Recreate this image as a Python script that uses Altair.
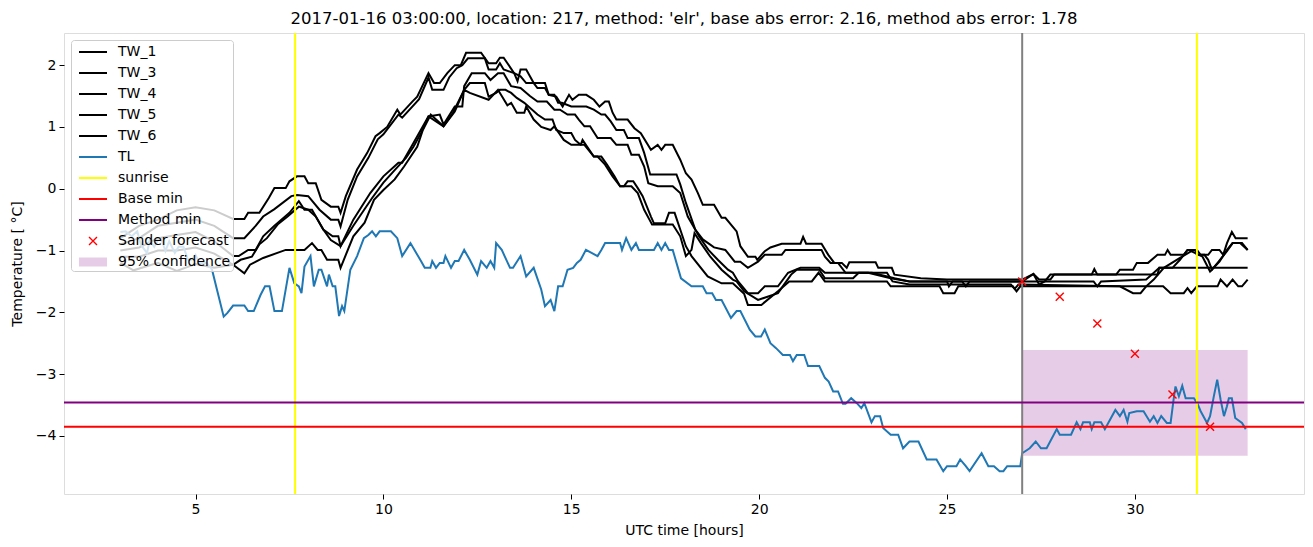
import altair as alt
import pandas as pd

TITLE = "2017-01-16 03:00:00, location: 217, method: 'elr', base abs error: 2.16, method abs error: 1.78"

# ---- data (hour, temperature) ----
tw_1 = [(3.0,-0.8),(3.5,-0.6),(4.0,-0.5),(4.5,-0.35),(5.0,-0.3),(5.5,-0.35),(6.0,-0.49),(6.3,-0.49),(6.4,-0.39),(6.7,-0.39),(6.95,-0.15),(7.1,0.01),(7.4,0.01),(7.5,0.12),(7.7,0.2),(7.9,0.2),(8.0,0.09),(8.2,0.09),(8.35,-0.18),(8.6,-0.29),(8.8,-0.29),(8.86,-0.39),(9.0,-0.12),(9.3,0.31),(9.57,0.58),(9.79,0.85),(9.9,0.9),(10.1,1.0),(10.37,1.28),(10.45,1.2),(10.77,1.41),(10.9,1.49),(11.2,1.87),(11.35,1.71),(11.5,1.71),(11.7,1.87),(11.9,2.0),(12.06,2.0),(12.2,2.2),(12.6,2.2),(12.8,2.03),(13.0,2.03),(13.1,2.12),(13.2,2.12),(13.48,1.87),(13.57,1.74),(13.65,1.93),(13.8,1.93),(13.9,1.82),(14.0,1.71),(14.3,1.71),(14.4,1.52),(14.6,1.49),(14.77,1.33),(14.94,1.52),(15.03,1.44),(15.2,1.52),(15.4,1.52),(15.6,1.44),(15.75,1.33),(15.9,1.41),(16.0,1.41),(16.1,1.23),(16.2,1.12),(16.5,1.12),(16.68,0.98),(16.85,0.9),(17.12,0.63),(17.3,0.71),(17.4,0.63),(17.5,0.71),(17.7,0.71),(17.9,0.47),(18.05,0.25),(18.2,0.15),(18.37,-0.07),(18.5,-0.26),(18.8,-0.26),(19.0,-0.47),(19.1,-0.47),(19.4,-0.69),(19.5,-0.93),(19.7,-1.1),(19.9,-1.1),(19.95,-1.15),(20.15,-1.01),(20.3,-0.95),(20.6,-0.89),(21.1,-0.89),(21.17,-0.78),(21.25,-0.89),(21.66,-0.89),(21.84,-1.07),(22.0,-1.2),(22.2,-1.2),(22.33,-1.28),(22.4,-1.19),(23.1,-1.19),(23.17,-1.28),(23.53,-1.28),(23.6,-1.39),(24.3,-1.45),(25.0,-1.47),(26.0,-1.47),(27.0,-1.47),(27.3,-1.38),(27.45,-1.47),(27.75,-1.47),(27.85,-1.39),(28.85,-1.39),(28.92,-1.3),(29.0,-1.39),(29.5,-1.39),(29.6,-1.31),(29.95,-1.31),(30.05,-1.2),(30.35,-1.2),(30.6,-1.07),(30.8,-1.07),(30.87,-0.99),(30.95,-1.07),(31.3,-1.07),(31.4,-0.99),(31.65,-0.99),(31.75,-1.07),(31.95,-1.07),(32.05,-0.99),(32.25,-0.99),(32.35,-1.07),(32.45,-0.88),(32.58,-0.7),(32.68,-0.8),(33.0,-0.8)]

tw_3 = [(3.0,-0.9),(3.5,-0.8),(4.0,-0.6),(4.5,-0.55),(5.0,-0.5),(5.5,-0.6),(6.0,-0.8),(6.3,-0.8),(6.6,-0.6),(6.8,-0.45),(7.1,-0.33),(7.55,-0.12),(7.7,-0.1),(8.0,-0.12),(8.3,-0.34),(8.6,-0.5),(8.8,-0.5),(8.86,-0.61),(9.05,-0.18),(9.3,0.2),(9.6,0.5),(9.85,0.8),(10.0,0.88),(10.4,1.2),(10.5,1.15),(10.8,1.35),(10.95,1.45),(11.2,1.8),(11.3,1.6),(11.6,1.6),(11.75,1.8),(11.95,1.95),(12.1,2.0),(12.25,2.11),(12.7,2.11),(12.8,1.93),(13.0,1.93),(13.1,2.03),(13.2,1.93),(13.48,1.87),(13.65,1.82),(13.8,1.71),(14.0,1.71),(14.1,1.63),(14.3,1.63),(14.4,1.52),(14.55,1.52),(14.65,1.39),(14.75,1.39),(15.0,1.33),(15.4,1.33),(15.6,1.28),(15.8,1.2),(15.9,1.2),(16.05,1.09),(16.2,0.95),(16.4,0.95),(16.5,0.82),(16.8,0.82),(16.94,0.58),(17.1,0.23),(17.8,0.23),(17.9,0.07),(18.05,-0.23),(18.3,-0.66),(18.5,-0.82),(18.8,-0.95),(19.1,-0.99),(19.35,-1.18),(19.5,-1.18),(19.7,-1.28),(19.97,-1.18),(20.15,-1.07),(20.6,-1.07),(20.7,-0.99),(21.66,-0.99),(21.75,-1.1),(21.9,-1.2),(22.1,-1.2),(22.3,-1.36),(23.0,-1.36),(23.6,-1.45),(24.0,-1.5),(25.0,-1.5),(25.05,-1.58),(25.15,-1.5),(27.0,-1.5),(27.3,-1.38),(27.45,-1.55),(27.6,-1.5),(27.75,-1.39),(30.6,-1.39),(30.65,-1.28),(31.0,-1.28),(31.2,-1.15),(31.4,-0.99),(31.6,-0.99),(31.65,-1.07),(31.85,-1.07),(31.95,-1.15),(32.05,-1.31),(32.2,-1.2),(32.45,-1.01),(32.6,-0.88),(32.8,-0.88),(33.0,-0.99)]

tw_4 = [(3.0,-1.0),(3.5,-0.95),(4.0,-0.8),(4.5,-0.75),(5.0,-0.7),(5.5,-0.85),(6.0,-1.09),(6.15,-1.09),(6.4,-0.99),(6.6,-0.99),(6.8,-0.77),(7.1,-0.6),(7.5,-0.39),(7.75,-0.2),(7.9,-0.34),(8.1,-0.34),(8.4,-0.66),(8.65,-0.77),(8.8,-0.77),(8.86,-0.93),(9.2,-0.5),(9.65,-0.07),(10.0,0.2),(10.4,0.42),(10.5,0.42),(10.8,0.74),(11.2,1.17),(11.5,1.2),(11.6,1.04),(11.9,1.33),(12.1,1.33),(12.15,1.66),(12.35,1.87),(12.7,1.87),(12.85,1.76),(13.05,1.87),(13.2,1.87),(13.4,1.66),(13.65,1.63),(13.9,1.5),(14.1,1.41),(14.35,1.41),(14.55,1.28),(14.7,1.28),(14.9,1.2),(15.1,1.2),(15.2,1.12),(15.35,1.01),(15.5,1.01),(15.7,0.82),(16.05,0.82),(16.2,0.71),(16.5,0.71),(16.6,0.55),(16.8,0.55),(16.94,0.36),(17.05,0.09),(17.3,0.04),(17.7,0.04),(17.9,-0.07),(18.1,-0.45),(18.4,-0.77),(18.65,-0.99),(18.9,-1.15),(19.17,-1.31),(19.3,-1.36),(19.44,-1.5),(19.7,-1.69),(19.97,-1.69),(20.15,-1.58),(20.5,-1.58),(20.77,-1.36),(21.1,-1.28),(21.6,-1.28),(21.75,-1.36),(22.9,-1.36),(23.5,-1.45),(24.0,-1.5),(25.4,-1.5),(25.5,-1.58),(25.6,-1.5),(28.9,-1.5),(29.0,-1.58),(29.1,-1.5),(30.3,-1.47),(30.45,-1.39),(30.65,-1.28),(33.0,-1.28)]

tw_5 = [(3.0,-1.1),(3.5,-1.1),(4.0,-1.0),(4.5,-1.0),(5.0,-0.95),(5.5,-1.05),(6.0,-1.23),(6.2,-1.15),(6.5,-1.1),(6.7,-0.9),(6.9,-0.8),(7.2,-0.57),(7.45,-0.45),(7.75,-0.29),(8.0,-0.34),(8.2,-0.45),(8.4,-0.66),(8.6,-0.83),(8.86,-0.93),(9.2,-0.6),(9.7,-0.15),(10.0,0.1),(10.3,0.3),(10.6,0.5),(10.8,0.68),(11.0,0.9),(11.2,1.17),(11.6,1.01),(11.9,1.25),(12.15,1.6),(12.3,1.71),(12.7,1.71),(12.8,1.49),(13.0,1.55),(13.1,1.6),(13.25,1.6),(13.4,1.55),(13.55,1.47),(13.75,1.39),(14.1,1.2),(14.3,1.12),(14.5,1.12),(14.6,0.95),(14.8,0.9),(15.0,0.9),(15.1,0.79),(15.25,0.71),(15.35,0.71),(15.6,0.52),(15.7,0.52),(15.9,0.39),(16.1,0.2),(16.3,0.04),(16.6,0.04),(16.77,-0.07),(16.94,-0.34),(17.08,-0.5),(17.15,-0.58),(17.7,-0.58),(17.9,-0.77),(18.05,-1.09),(18.2,-0.99),(18.28,-0.72),(18.45,-0.88),(18.7,-1.1),(19.0,-1.31),(19.3,-1.47),(19.4,-1.5),(19.6,-1.66),(19.97,-1.8),(20.5,-1.69),(20.85,-1.39),(21.0,-1.31),(21.6,-1.31),(21.75,-1.45),(22.5,-1.45),(22.65,-1.36),(23.4,-1.36),(23.55,-1.5),(24.0,-1.55),(26.7,-1.55),(26.8,-1.62),(26.9,-1.55),(29.6,-1.58),(29.95,-1.69),(30.15,-1.69),(30.3,-1.58),(30.5,-1.47),(30.77,-1.28),(31.2,-1.12),(31.5,-1.01),(31.8,-1.1),(32.0,-1.34),(32.25,-1.18),(32.45,-0.99),(32.6,-0.88),(32.85,-0.88),(33.0,-0.99)]

tw_6 = [(3.0,-1.2),(3.35,-1.32),(4.0,-1.2),(4.5,-1.33),(5.0,-1.22),(5.5,-1.28),(6.0,-1.23),(6.3,-1.37),(6.45,-1.23),(6.8,-1.12),(7.4,-0.99),(7.9,-0.99),(8.1,-0.88),(8.25,-0.99),(8.35,-0.99),(8.5,-1.15),(8.8,-1.15),(8.86,-1.28),(9.2,-0.77),(9.5,-0.55),(9.75,-0.18),(10.0,-0.02),(10.3,0.15),(10.55,0.36),(10.9,0.68),(11.05,0.95),(11.26,1.2),(11.6,1.01),(11.85,1.23),(12.15,1.6),(12.3,1.55),(12.8,1.44),(13.05,1.6),(13.3,1.35),(13.4,1.39),(13.55,1.23),(13.75,1.23),(13.8,1.33),(14.0,1.12),(14.2,1.0),(14.45,0.95),(14.55,1.01),(14.8,0.79),(15.0,0.71),(15.25,0.71),(15.3,0.79),(15.6,0.52),(15.8,0.52),(15.95,0.39),(16.15,0.2),(16.3,0.04),(16.4,0.04),(16.5,0.12),(16.65,0.12),(16.77,0.01),(16.9,-0.12),(17.12,-0.45),(17.2,-0.56),(17.5,-0.56),(17.6,-0.39),(17.75,-0.39),(17.9,-0.66),(18.05,-0.93),(18.2,-1.09),(18.63,-1.42),(19.0,-1.53),(19.3,-1.53),(19.6,-1.7),(19.7,-1.88),(20.06,-1.88),(20.5,-1.66),(20.8,-1.5),(21.4,-1.5),(21.58,-1.36),(21.75,-1.5),(23.4,-1.5),(23.5,-1.58),(24.8,-1.58),(24.9,-1.69),(25.2,-1.69),(25.3,-1.58),(26.75,-1.58),(26.85,-1.66),(26.95,-1.58),(30.75,-1.58),(30.95,-1.69),(31.3,-1.69),(31.4,-1.61),(31.5,-1.69),(31.65,-1.58),(32.2,-1.58),(32.28,-1.47),(32.45,-1.58),(32.6,-1.47),(32.75,-1.58),(32.85,-1.58),(33.0,-1.47)]

tl = [(3.0,-0.7),(3.14,-0.69),(3.3,-0.77),(3.45,-0.69),(3.55,-0.91),(3.71,-1.04),(3.78,-0.83),(3.9,-0.94),(4.0,-0.83),(4.1,-0.83),(4.2,-1.01),(4.3,-0.85),(4.45,-1.04),(4.55,-0.94),(4.68,-0.94),(4.8,-1.15),(4.9,-1.15),(5.0,-1.07),(5.1,-1.2),(5.3,-1.2),(5.44,-1.31),(5.57,-1.63),(5.75,-2.07),(5.85,-2.01),(6.0,-1.89),(6.3,-1.89),(6.4,-1.98),(6.55,-1.98),(6.73,-1.72),(6.85,-1.58),(6.97,-1.58),(7.1,-1.98),(7.3,-1.98),(7.5,-1.28),(7.63,-1.53),(7.75,-1.58),(7.82,-1.69),(7.9,-1.26),(8.06,-1.09),(8.15,-1.58),(8.28,-1.31),(8.35,-1.31),(8.5,-1.58),(8.55,-1.39),(8.65,-1.58),(8.72,-1.58),(8.82,-2.06),(8.9,-1.9),(8.96,-1.98),(9.12,-1.31),(9.3,-1.09),(9.48,-0.8),(9.6,-0.75),(9.7,-0.69),(9.8,-0.77),(9.9,-0.69),(10.2,-0.69),(10.37,-0.8),(10.5,-1.09),(10.72,-0.88),(11.0,-1.17),(11.1,-1.28),(11.25,-1.28),(11.3,-1.17),(11.4,-1.28),(11.5,-1.2),(11.6,-1.2),(11.65,-1.09),(11.8,-1.28),(11.9,-1.17),(12.0,-1.17),(12.15,-0.99),(12.3,-1.15),(12.5,-1.39),(12.6,-1.17),(12.75,-1.28),(12.85,-1.17),(12.95,-1.28),(13.0,-0.88),(13.15,-0.99),(13.37,-1.28),(13.45,-1.28),(13.65,-1.09),(13.8,-1.42),(14.0,-1.28),(14.2,-1.63),(14.3,-1.9),(14.45,-1.8),(14.55,-1.98),(14.65,-1.58),(14.77,-1.58),(14.9,-1.31),(15.05,-1.28),(15.15,-1.2),(15.25,-1.15),(15.39,-0.99),(15.7,-1.09),(15.8,-0.99),(15.9,-0.88),(16.3,-0.88),(16.35,-0.99),(16.46,-0.8),(16.6,-0.99),(16.72,-0.88),(16.8,-0.99),(17.2,-0.99),(17.3,-0.88),(17.4,-0.99),(17.5,-0.88),(17.6,-0.99),(17.7,-0.99),(17.92,-1.45),(18.2,-1.58),(18.5,-1.58),(18.6,-1.69),(18.75,-1.69),(18.85,-1.8),(19.0,-1.8),(19.25,-2.09),(19.4,-1.98),(19.5,-1.98),(19.75,-2.28),(19.9,-2.39),(20.05,-2.39),(20.15,-2.28),(20.3,-2.5),(20.45,-2.58),(20.63,-2.69),(20.82,-2.69),(20.9,-2.79),(21.0,-2.69),(21.2,-2.69),(21.3,-2.87),(21.6,-2.87),(21.75,-3.06),(21.85,-3.12),(21.97,-3.28),(22.1,-3.28),(22.23,-3.48),(22.3,-3.48),(22.45,-3.39),(22.6,-3.47),(22.72,-3.55),(22.8,-3.47),(22.99,-3.78),(23.08,-3.68),(23.22,-3.68),(23.3,-3.87),(23.5,-3.98),(23.7,-3.98),(23.83,-4.2),(24.0,-4.09),(24.24,-4.09),(24.46,-4.38),(24.72,-4.38),(24.9,-4.57),(25.0,-4.49),(25.25,-4.49),(25.35,-4.38),(25.5,-4.49),(25.6,-4.57),(25.92,-4.28),(26.1,-4.49),(26.25,-4.49),(26.4,-4.57),(26.5,-4.57),(26.6,-4.49),(26.95,-4.49),(27.0,-4.28),(27.2,-4.2),(27.36,-4.09),(27.5,-4.2),(27.65,-4.2),(27.92,-3.89),(28.0,-3.98),(28.3,-3.98),(28.45,-3.78),(28.55,-3.89),(28.62,-3.78),(28.8,-3.78),(28.85,-3.89),(28.92,-3.78),(29.1,-3.78),(29.2,-3.89),(29.48,-3.58),(29.6,-3.68),(29.7,-3.58),(29.8,-3.77),(29.85,-3.63),(30.05,-3.6),(30.23,-3.6),(30.4,-3.77),(30.5,-3.68),(30.6,-3.79),(30.7,-3.68),(30.85,-3.79),(30.95,-3.79),(31.03,-3.41),(31.08,-3.2),(31.17,-3.36),(31.26,-3.19),(31.35,-3.39),(31.57,-3.39),(31.66,-3.47),(31.75,-3.6),(31.92,-3.79),(32.0,-3.68),(32.1,-3.36),(32.19,-3.09),(32.28,-3.41),(32.37,-3.68),(32.45,-3.52),(32.5,-3.39),(32.58,-3.39),(32.67,-3.71),(32.85,-3.79),(32.95,-3.89)]

sunrise_hours = [7.65, 31.65]
now_hour = [27.0]
base_min = -3.85
method_min = -3.46
sander_hours = [27, 28, 29, 30, 31, 32]
sander_values = [-1.5, -1.75, -2.18, -2.67, -3.33, -3.85]
conf_hours = (27.0, 33.0)
conf_range = (-4.32, -2.61)

x_ticks = [5, 10, 15, 20, 25, 30]
y_ticks = [-4, -3, -2, -1, 0, 1, 2]
X_DOMAIN = [1.5, 34.5]
Y_DOMAIN = [-4.94, 2.52]

line_entries = ["TW_1", "TW_3", "TW_4", "TW_5", "TW_6", "TL", "sunrise", "Base min", "Method min"]
line_colors = ["#000000"] * 5 + ["#1f77b4", "#ffff00", "#ff0000", "#800080"]
sander_label = "Sander forecast"
conf_label = "95% confidence"

# ---- build tables ----
tw_rows = []
for name, pts in [("TW_1", tw_1), ("TW_3", tw_3), ("TW_4", tw_4), ("TW_5", tw_5), ("TW_6", tw_6)]:
    for h, v in pts:
        tw_rows.append({"series": name, "h": h, "v": v})
tw_df = pd.DataFrame(tw_rows)
tl_df = pd.DataFrame(tl, columns=["h", "v"])
sun_df = pd.DataFrame({"h": sunrise_hours})
now_df = pd.DataFrame({"h": now_hour})
base_df = pd.DataFrame({"v": [base_min]})
meth_df = pd.DataFrame({"v": [method_min]})
sander_df = pd.DataFrame({"h": sander_hours, "v": sander_values, "label": sander_label})
conf_df = pd.DataFrame({"h1": [conf_hours[0]], "h2": [conf_hours[1]],
                        "v1": [conf_range[0]], "v2": [conf_range[1]], "label": [conf_label]})
all_entries = line_entries + [sander_label, conf_label]
leg_df = pd.DataFrame({"entry": all_entries, "h": [0.0] * len(all_entries),
                       "v": [0.0] * len(all_entries)})

FONT = "DejaVu Sans"
xscale = alt.Scale(domain=X_DOMAIN, nice=False, zero=False)
yscale = alt.Scale(domain=Y_DOMAIN, nice=False, zero=False)
xaxis = alt.Axis(values=x_ticks, title="UTC time [hours]", grid=False, domain=False,
                 tickColor="black", tickSize=5, tickWidth=1, labelFont=FONT, labelFontSize=14,
                 labelColor="black", labelPadding=3, titleFont=FONT, titleFontSize=14,
                 titleFontWeight="normal", titleColor="black", titlePadding=7)
yaxis = alt.Axis(values=y_ticks, title="Temperature [ °C]", grid=False, domain=False,
                 tickColor="black", tickSize=5, tickWidth=1, labelFont=FONT, labelFontSize=14,
                 labelColor="black", labelPadding=3, titleFont=FONT, titleFontSize=14,
                 titleFontWeight="normal", titleColor="black", titlePadding=11)


def X(f="h"):
    return alt.X(f + ":Q", scale=xscale, axis=xaxis)


def Y(f="v"):
    return alt.Y(f + ":Q", scale=yscale, axis=yaxis)


# legend symbol shapes (unit = 10 px at symbol size 400)
LINE = "M-1,-0.1L1.8,-0.1L1.8,0.1L-1,0.1Z"
XMARK = "M0,-0.4L0.8,0.4M0,0.4L0.8,-0.4"
PATCH = "M-1,-0.45L1.8,-0.45L1.8,0.45L-1,0.45Z"
LEG_X, LEG_Y, ROW = 7, 7, 21
common = dict(title=None, orient="none", legendX=LEG_X, symbolSize=400,
              labelFont=FONT, labelFontSize=14, labelColor="black", rowPadding=4, padding=2)

leg_lines = alt.Legend(legendY=LEG_Y, symbolType=LINE, symbolStrokeWidth=0, symbolOpacity=1,
                       labelOffset=19, symbolOffset=6, fillColor="rgba(255,255,255,0.8)",
                       strokeColor="#cccccc", cornerRadius=3, zindex=0, **common)
leg_sander = alt.Legend(legendY=LEG_Y + 9 * ROW - 1, symbolType=XMARK, symbolStrokeWidth=1.4,
                        symbolOpacity=1, labelOffset=18, symbolOffset=5, labelOpacity=0,
                        zindex=1, **common)
leg_conf = alt.Legend(legendY=LEG_Y + 10 * ROW, symbolType=PATCH, symbolStrokeWidth=0,
                      symbolOpacity=0.2, labelOffset=19, symbolOffset=6, labelOpacity=0,
                      zindex=1, **common)

conf_layer = alt.Chart(conf_df).mark_rect(opacity=0.2, strokeWidth=0).encode(
    x=X("h1"), x2="h2", y=Y("v1"), y2="v2",
    fill=alt.Fill("label:N", scale=alt.Scale(domain=[conf_label], range=["#800080"]), legend=leg_conf))
tw_layer = alt.Chart(tw_df).mark_line(color="black", strokeWidth=2).encode(
    x=X(), y=Y(), detail="series:N")
tl_layer = alt.Chart(tl_df).mark_line(color="#1f77b4", strokeWidth=2).encode(x=X(), y=Y())
sun_layer = alt.Chart(sun_df).mark_rule(color="#ffff00", strokeWidth=2).encode(x=X())
now_layer = alt.Chart(now_df).mark_rule(color="#808080", strokeWidth=2).encode(x=X())
base_layer = alt.Chart(base_df).mark_rule(color="#ff0000", strokeWidth=2).encode(y=Y())
meth_layer = alt.Chart(meth_df).mark_rule(color="#800080", strokeWidth=2).encode(y=Y())
sander_layer = alt.Chart(sander_df).mark_point(
    shape="M-1,-1L1,1M-1,1L1,-1", filled=False, strokeWidth=1.4, size=64, opacity=1).encode(
    x=X(), y=Y(),
    stroke=alt.Stroke("label:N", scale=alt.Scale(domain=[sander_label], range=["#ff0000"]),
                      legend=leg_sander))
legend_layer = alt.Chart(leg_df).mark_point(filled=True, size=400, clip=True, opacity=1).encode(
    x=X(), y=Y(),
    color=alt.Color("entry:N", scale=alt.Scale(domain=all_entries,
                                               range=line_colors + ["transparent", "transparent"]),
                    legend=leg_lines),
)

chart = alt.layer(
    conf_layer, tw_layer, tl_layer, sun_layer, now_layer, base_layer, meth_layer,
    sander_layer, legend_layer
).properties(
    width=1240, height=461,
    title=alt.TitleParams(TITLE, font=FONT, fontSize=16.5, fontWeight="normal", color="black",
                          anchor="middle", offset=5),
    autosize=alt.AutoSizeParams(type="none"),
    padding={"left": 64, "top": 33, "right": 9, "bottom": 53},
).configure_view(stroke="black", strokeWidth=1).configure(background="white")

chart.save("out.html", embed_options={"renderer": "svg", "actions": False})
